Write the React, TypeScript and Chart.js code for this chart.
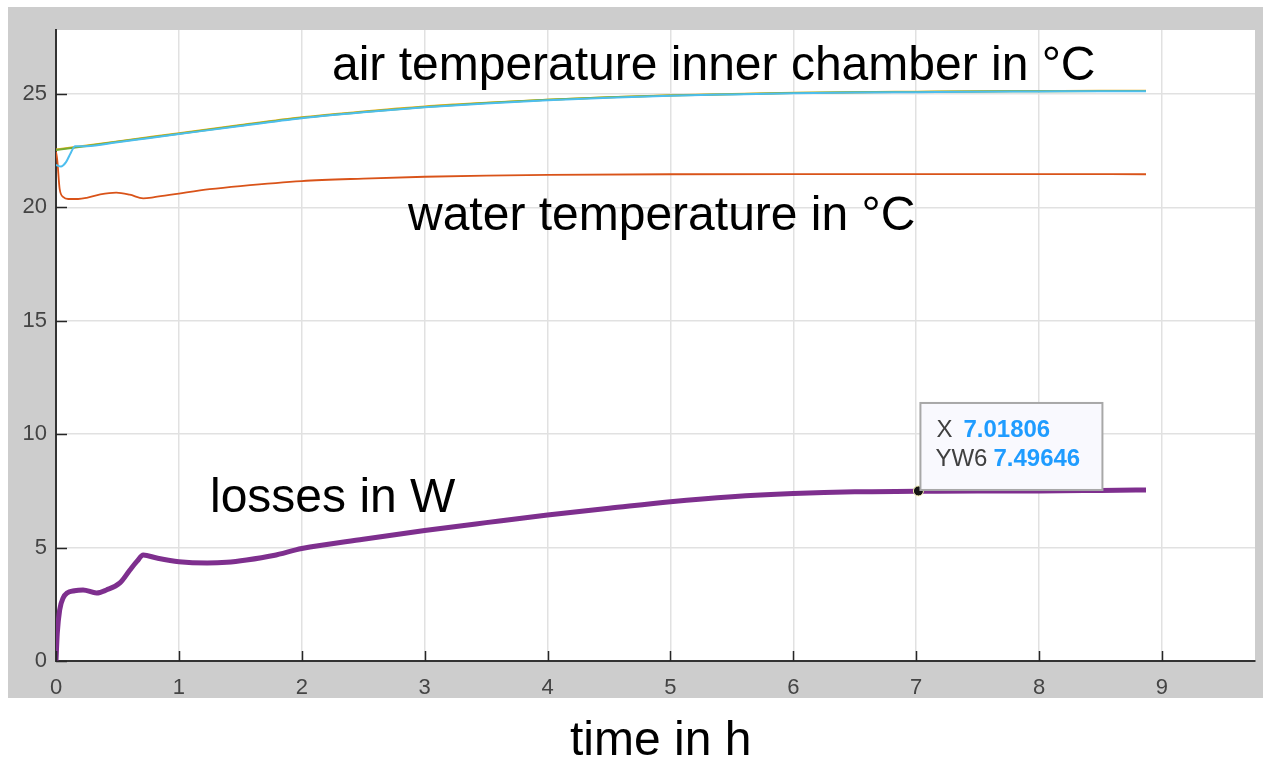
import React, { useEffect, useRef } from "react";
import { Chart, registerables } from "chart.js";
Chart.register(...registerables);

// ---- data (time in h) ----
const xTicks = [0, 1, 2, 3, 4, 5, 6, 7, 8, 9];
const yTicks = [0, 5, 10, 15, 20, 25];

const airTime = [0, 0.25, 0.5, 0.75, 1, 1.5, 2, 2.5, 3, 3.5, 4, 4.5, 5, 5.5, 6, 6.5, 7, 7.5, 8, 8.5, 8.87];
const airYellow = [22.55, 22.73, 22.91, 23.09, 23.27, 23.63, 23.97, 24.23, 24.45, 24.61, 24.75, 24.86, 24.94, 25.0, 25.05, 25.08, 25.1, 25.12, 25.13, 25.14, 25.14];
const airGreen = [22.53, 22.71, 22.89, 23.07, 23.25, 23.61, 23.95, 24.21, 24.43, 24.6, 24.74, 24.85, 24.93, 24.99, 25.04, 25.07, 25.09, 25.11, 25.12, 25.13, 25.13];

const cyanTime = [0, 0.04, 0.08, 0.12, 0.155, 0.25, 0.5, 0.75, 1, 1.5, 2, 2.5, 3, 3.5, 4, 4.5, 5, 5.5, 6, 6.5, 7, 7.5, 8, 8.5, 8.87];
const cyanVals = [21.87, 21.8, 21.98, 22.4, 22.7, 22.7, 22.87, 23.05, 23.23, 23.59, 23.93, 24.19, 24.41, 24.58, 24.72, 24.83, 24.92, 24.98, 25.03, 25.06, 25.08, 25.1, 25.11, 25.12, 25.12];

const waterTime = [0, 0.01, 0.03, 0.06, 0.1, 0.18, 0.25, 0.36, 0.49, 0.6, 0.71, 0.8, 1, 1.25, 1.5, 2, 2.5, 3, 3.5, 4, 5, 6, 7, 8, 8.87];
const waterVals = [22.45, 22.1, 20.8, 20.45, 20.37, 20.37, 20.42, 20.57, 20.65, 20.56, 20.4, 20.45, 20.61, 20.8, 20.94, 21.16, 21.27, 21.35, 21.4, 21.43, 21.46, 21.47, 21.47, 21.47, 21.46];

const lossTime = [0, 0.01, 0.03, 0.06, 0.09, 0.15, 0.22, 0.33, 0.41, 0.52, 0.6, 0.66, 0.71, 0.82, 1, 1.23, 1.39, 1.55, 1.77, 2, 2.5, 3, 3.5, 4, 4.5, 5, 5.5, 6, 6.5, 7, 7.5, 8, 8.5, 8.87];
const lossVals = [0, 1.2, 2.25, 2.8, 3.0, 3.1, 3.13, 3.0, 3.13, 3.44, 4.0, 4.4, 4.67, 4.54, 4.38, 4.32, 4.35, 4.45, 4.65, 4.96, 5.37, 5.75, 6.1, 6.44, 6.73, 7.02, 7.24, 7.38, 7.46, 7.48, 7.5, 7.5, 7.52, 7.54];

const tipX = 7.01806;
const tipY = 7.49646;
const tipLabels = ["X", "YW6"];
const tipValues = ["7.01806", "7.49646"];

const annotations = [
  { text: "air temperature inner chamber in °C", x: 332, y: 80 },
  { text: "water temperature in °C", x: 408, y: 230 },
  { text: "losses in W", x: 210, y: 512 },
  { text: "time in h", x: 570, y: 755 },
];

const pts = (xs: number[], ys: number[]) => xs.map((x, i) => ({ x, y: ys[i] }));

const FONT = "'Liberation Sans', Arial, Helvetica, sans-serif";

const framePlugin = {
  id: "frame",
  beforeDraw(chart: any) {
    const { ctx, chartArea: a, width, height } = chart;
    ctx.save();
    ctx.fillStyle = "#ffffff";
    ctx.fillRect(0, 0, width, height);
    ctx.fillStyle = "#cdcdcd";
    ctx.fillRect(8, 7, width - 8, 691);
    ctx.fillStyle = "#ffffff";
    ctx.fillRect(a.left, a.top, a.right - a.left, a.bottom - a.top);
    ctx.restore();
  },
  afterDraw(chart: any) {
    const { ctx, chartArea: a, scales } = chart;
    const xs = scales.x, ys = scales.y;
    ctx.save();
    // inward tick marks
    ctx.strokeStyle = "#262626";
    ctx.lineWidth = 1.5;
    ctx.beginPath();
    xTicks.forEach((v) => {
      const px = Math.round(xs.getPixelForValue(v)) + 0.5;
      ctx.moveTo(px, a.bottom);
      ctx.lineTo(px, a.bottom - 10);
    });
    yTicks.forEach((v) => {
      const py = Math.round(ys.getPixelForValue(v)) + 0.5;
      ctx.moveTo(a.left, py);
      ctx.lineTo(a.left + 11, py);
    });
    ctx.stroke();

    // data tip box
    const px = xs.getPixelForValue(tipX);
    const py = ys.getPixelForValue(tipY);
    const bx = px + 2, bw = 182, bh = 87, by = py - 1 - bh;
    ctx.fillStyle = "#f9f9fe";
    ctx.fillRect(bx, by, bw, bh);
    ctx.strokeStyle = "#a8a8a8";
    ctx.lineWidth = 2;
    ctx.strokeRect(bx, by, bw, bh);
    ctx.textBaseline = "alphabetic";
    ctx.textAlign = "left";
    ctx.font = `24px ${FONT}`;
    ctx.fillStyle = "#404040";
    ctx.fillText(tipLabels[0], bx + 16, by + 34);
    ctx.fillText(tipLabels[1], bx + 15, by + 63);
    ctx.font = `bold 24px ${FONT}`;
    ctx.fillStyle = "#1f9cff";
    ctx.fillText(tipValues[0], bx + 43, by + 34);
    ctx.fillText(tipValues[1], bx + 73, by + 63);

    // annotations
    ctx.font = `48px ${FONT}`;
    ctx.fillStyle = "#000000";
    annotations.forEach((t) => ctx.fillText(t.text, t.x, t.y));
    ctx.restore();
  },
};

export default function App() {
  const ref = useRef<HTMLCanvasElement>(null);
  useEffect(() => {
    document.body.style.margin = "0";
    const chart = new Chart(ref.current as HTMLCanvasElement, {
      type: "line",
      data: {
        datasets: [
          { label: "tip", data: [{ x: tipX, y: tipY }], showLine: false, pointRadius: 5, pointBackgroundColor: "#151515", pointBorderColor: "#f5f0b0", pointBorderWidth: 1, order: 0 },
          { label: "cyan", data: pts(cyanTime, cyanVals), borderColor: "#4DBEEE", borderWidth: 2, pointRadius: 0, order: 1 },
          { label: "green", data: pts(airTime, airGreen), borderColor: "#77AC30", borderWidth: 2, pointRadius: 0, order: 2 },
          { label: "yellow", data: pts(airTime, airYellow), borderColor: "#EDB120", borderWidth: 2, pointRadius: 0, order: 3 },
          { label: "water", data: pts(waterTime, waterVals), borderColor: "#D95319", borderWidth: 1.8, pointRadius: 0, order: 4 },
          { label: "losses", data: pts(lossTime, lossVals), borderColor: "#7E2F8E", borderWidth: 5, pointRadius: 0, order: 5 },
        ],
      },
      options: {
        animation: false,
        responsive: false,
        maintainAspectRatio: false,
        parsing: false as any,
        layout: { padding: { top: 30, right: 8, left: 0, bottom: 0 } },
        plugins: { legend: { display: false }, tooltip: { enabled: false } },
        elements: { line: { tension: 0.3, cubicInterpolationMode: "monotone" } },
        scales: {
          x: {
            type: "linear",
            min: 0,
            max: 9.757,
            afterBuildTicks: (s: any) => { s.ticks = xTicks.map((v) => ({ value: v })); },
            afterFit: (s: any) => { s.height = 102; },
            grid: { color: "#e1e1e1", lineWidth: 1.5, drawTicks: false },
            border: { display: true, color: "#333333", width: 2 },
            ticks: { padding: 14, color: "#444444", font: { family: FONT, size: 22 }, maxRotation: 0 },
          },
          y: {
            type: "linear",
            min: 0,
            max: 27.82,
            afterBuildTicks: (s: any) => { s.ticks = yTicks.map((v) => ({ value: v })); },
            afterFit: (s: any) => { s.width = 56; },
            grid: { color: "#e1e1e1", lineWidth: 1.5, drawTicks: false },
            border: { display: true, color: "#333333", width: 2 },
            ticks: { padding: 9, color: "#444444", font: { family: FONT, size: 22 } },
          },
        },
      },
      plugins: [framePlugin],
    } as any);
    return () => chart.destroy();
  }, []);
  return (
    <div style={{ position: "fixed", left: 0, top: 0, width: 1263, height: 763 }}>
      <canvas ref={ref} width={1263} height={763} style={{ display: "block", width: 1263, height: 763 }} />
    </div>
  );
}
